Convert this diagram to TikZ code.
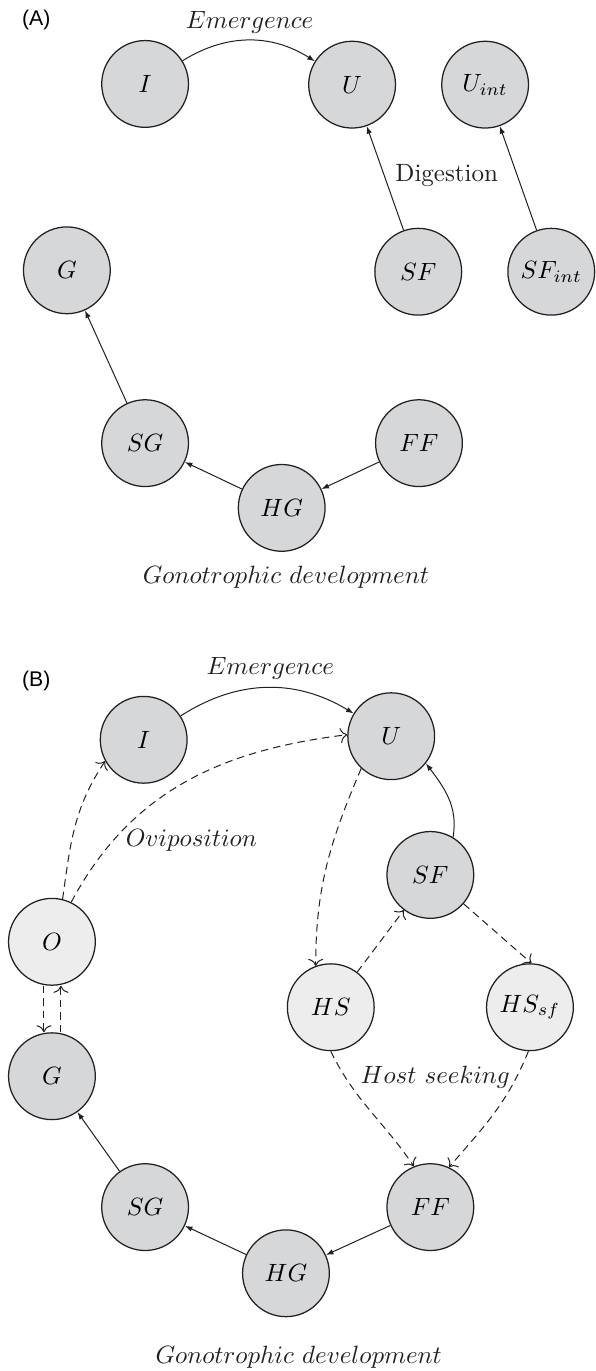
\documentclass[tikz,border=0pt]{standalone}
\usepackage{fontspec}
\usepackage{tikz}
\usetikzlibrary{arrows.meta, positioning}
\newfontfamily\panelfont{Liberation Sans}
\definecolor{Shade}{HTML}{D6D7D9}
\definecolor{Pale} {HTML}{EDEDEE}
\definecolor{Ink}  {HTML}{231F20}
\tikzset{
  st/.style={circle, draw=Ink, line width=0.5pt, fill=Shade,
             minimum size=1.22cm, inner sep=0pt},
  stl/.style={st, fill=Pale},
  lbl/.style={inner sep=0pt, text=Ink},
  tag/.style={inner sep=0pt, font=\panelfont\fontsize{8.5}{10}\selectfont},
  arr/.style={-{Latex[length=3pt,width=2.2pt]}, line width=0.4pt, draw=Ink},
  darr/.style={-{To[length=2.8pt,width=6pt]}, dash pattern=on 3pt off 2pt,
               line width=0.4pt, draw=Ink}
}

\begin{document}
\begin{tikzpicture}
  \useasboundingbox (0,0) rectangle (8.365,-19.274);
  % (A)
  \node[tag] (tagA) at (0.51,-0.28) {(A)};
  \node[st] (aI)   at (2.04,-1.18) {$I$};
  \node[st] (aU)   at (4.95,-1.19) {$U$};
  \node[st] (aUi)  at (6.82,-1.19) {$U_{int}$};
  \node[st] (aSF)  at (5.88,-3.82) {$SF$};
  \node[st] (aSFi) at (7.75,-3.82) {$SF_{int}$};
  \node[st] (aG)   at (0.94,-3.80) {$G$};
  \node[st] (aSG)  at (2.04,-6.23) {$SG$};
  \node[st] (aFF)  at (5.89,-6.23) {$FF$};
  \node[st] (aHG)  at (3.96,-7.14) {$HG$};
  \node[lbl] (aEm)  at (3.51,-0.32) {$Emergence$};
  \node[lbl] (aDig) at (6.28,-2.47) {Digestion};
  \node[lbl] (aGon) at (4.02,-8.11) {$Gonotrophic\ development$};
  \draw[arr] (aI) to[bend left=32] (aU);
  \foreach \a/\b in {aSF/aU,aSFi/aUi,aSG/aG,aHG/aSG,aFF/aHG}{ \draw[arr](\a)--(\b); }
  % (B)
  \node[tag] (tagB) at (0.51,-9.57) {(B)};
  \node[st]  (bI)    at (2.02,-10.40) {$I$};
  \node[st]  (bU)    at (5.50,-10.35) {$U$};
  \node[st]  (bSF)   at (6.05,-12.30) {$SF$};
  \node[stl] (bO)    at (0.73,-13.24) {$O$};
  \node[stl] (bHS)   at (4.65,-14.16) {$HS$};
  \node[stl] (bHSsf) at (7.45,-14.16) {$HS_{sf}$};
  \node[st]  (bG)    at (0.73,-15.13) {$G$};
  \node[st]  (bSG)   at (2.04,-16.97) {$SG$};
  \node[st]  (bFF)   at (6.05,-16.97) {$FF$};
  \node[st]  (bHG)   at (4.02,-17.90) {$HG$};
  \node[lbl] (bEm)   at (3.80,-9.40)  {$Emergence$};
  \node[lbl] (bOvi)  at (2.69,-11.81) {$Oviposition$};
  \node[lbl] (bHost) at (6.12,-15.15) {$Host\ seeking$};
  \node[lbl] (bGon)  at (4.20,-19.08) {$Gonotrophic\ development$};
  \draw[arr] (bI) to[bend left=32] (bU);
  \draw[arr] (bSF.59) to[out=80,in=307] (bU.322);
  \foreach \a/\b in {bSG/bG,bHG/bSG,bFF/bHG}{ \draw[arr](\a)--(\b); }
  \draw[darr] (bO.76) to[out=82,in=236] (bI.209);
  \draw[darr] (bO.64) to[out=62,in=187] (bU.178);
  \draw[darr] (bU.227) to[out=247,in=90] (bHS.110);
  \draw[darr] (bHS) -- (bSF);
  \draw[darr] (bSF.-41) -- (bHSsf.88);
  \draw[darr] (bHS.-90) to[out=-64,in=124] (bFF.112);
  \draw[darr] (bHSsf.-92) to[out=248,in=49] (bFF.65);
  \draw[darr] ([xshift=-3.2pt]bO.south) -- ([xshift=-3.2pt]bG.north);
  \draw[darr] ([xshift=3.6pt]bG.north) -- ([xshift=3.6pt]bO.south);
\end{tikzpicture}
\end{document}
